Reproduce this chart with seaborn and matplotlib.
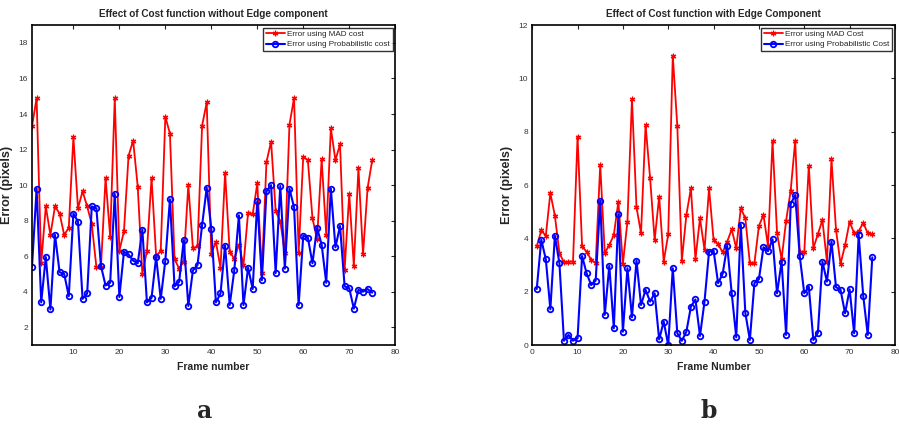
import numpy as np
import seaborn as sns
import matplotlib.pyplot as plt

# ---- data ----
frames_a = list(range(1, 76))
mad_a = [13.3, 14.9, 5.6, 8.8, 7.2, 8.8, 8.4, 7.2, 7.6, 12.7,
         8.7, 9.65, 8.8, 7.8, 5.4, 5.4, 10.4, 7.1, 14.9, 6.3,
         7.4, 11.65, 12.5, 9.9, 5.0, 6.3, 10.4, 6.0, 6.3, 13.85,
         12.9, 5.85, 5.3, 5.7, 10.0, 6.45, 6.55, 13.35, 14.65, 6.15,
         6.8, 5.35, 10.7, 6.25, 5.85, 6.65, 5.5, 8.45, 8.35, 10.1,
         5.05, 11.3, 12.45, 8.55, 7.95, 6.2, 13.4, 14.9, 6.2, 11.6,
         11.4, 8.15, 6.95, 11.45, 7.2, 13.2, 11.4, 12.3, 5.25, 9.5,
         5.45, 10.95, 6.1, 9.85, 11.4]
prob_a = [5.4, 9.8, 3.4, 5.95, 3.0, 7.2, 5.1, 5.0, 3.75, 8.4,
          7.95, 3.6, 3.9, 8.8, 8.7, 5.45, 4.35, 4.5, 9.5, 3.7,
          6.25, 6.1, 5.75, 5.6, 7.5, 3.4, 3.65, 5.95, 3.6, 5.75,
          9.2, 4.3, 4.55, 6.9, 3.2, 5.2, 5.5, 7.75, 9.85, 7.55,
          3.4, 3.9, 6.6, 3.25, 5.2, 8.3, 3.25, 5.35, 4.15, 9.1,
          4.65, 9.65, 10.0, 5.05, 9.95, 5.3, 9.8, 8.75, 3.25, 7.15,
          7.05, 5.6, 7.6, 6.65, 4.5, 9.8, 6.5, 7.7, 4.3, 4.2,
          3.05, 4.1, 4.0, 4.15, 3.95]

frames_b = list(range(1, 76))
mad_b = [3.7, 4.3, 4.1, 5.7, 4.85, 3.45, 3.1, 3.13, 3.13, 7.82,
         3.7, 3.5, 3.2, 3.07, 6.76, 3.45, 3.75, 4.13, 5.38, 3.05,
         4.63, 9.24, 5.17, 4.19, 8.26, 6.26, 3.94, 5.57, 3.13, 4.16,
         10.86, 8.22, 3.17, 4.88, 5.88, 3.22, 4.76, 3.57, 5.88, 3.94,
         3.78, 3.48, 3.88, 4.34, 3.63, 5.13, 4.76, 3.07, 3.07, 4.47,
         4.88, 3.72, 7.66, 4.19, 3.22, 4.67, 5.79, 7.66, 3.48, 3.48,
         6.73, 3.63, 4.16, 4.69, 3.13, 6.97, 4.32, 3.04, 3.75, 4.63,
         4.19, 4.26, 4.59, 4.19, 4.16]
prob_b = [2.1, 3.95, 3.22, 1.34, 4.1, 3.07, 0.16, 0.38, 0.16, 0.25,
          3.34, 2.69, 2.25, 2.42, 5.42, 1.13, 2.97, 0.63, 4.9, 0.5,
          2.88, 1.04, 3.17, 1.5, 2.07, 1.63, 1.94, 0.21, 0.88, 0.0,
          2.88, 0.44, 0.16, 0.5, 1.44, 1.71, 0.34, 1.63, 3.5, 3.54,
          2.32, 2.67, 3.72, 1.94, 0.29, 4.51, 1.21, 0.19, 2.32, 2.47,
          3.67, 3.52, 3.97, 1.94, 3.13, 0.38, 5.29, 5.63, 3.34, 1.94,
          2.19, 0.19, 0.46, 3.13, 2.38, 3.88, 2.17, 2.07, 1.19, 2.09,
          0.44, 4.13, 1.85, 0.38, 3.29]

sns.set_style("white")
plt.rcParams['font.family'] = ['Liberation Sans', 'DejaVu Sans']

fig = plt.figure(figsize=(8.99, 4.34), dpi=100)
ax1 = fig.add_axes([0.0356, 0.205, 0.404, 0.737])
ax2 = fig.add_axes([0.592, 0.205, 0.4035, 0.737])

asterisk = (6, 2, 0)


def draw(ax, x, mad, prob, labels):
    sns.lineplot(x=x, y=mad, ax=ax, color='red', lw=1.3, marker=asterisk,
                 markersize=4, markeredgecolor='red', markeredgewidth=0.9,
                 label=labels[0])
    sns.lineplot(x=x, y=prob, ax=ax, color='blue', lw=1.5, marker='o',
                 markersize=4, markerfacecolor='none', markeredgecolor='blue',
                 markeredgewidth=1.3, label=labels[1])
    ax.tick_params(direction='in', top=True, right=True, length=3,
                   labelsize=6, labelcolor='#333333', pad=3)
    for s in ax.spines.values():
        s.set_color('black')
        s.set_linewidth(1.2)
    leg = ax.legend(loc='upper right', fontsize=5.9, frameon=True, fancybox=False,
                    edgecolor='black', borderpad=0.35, handlelength=2.3,
                    handletextpad=0.3, labelspacing=0.3, borderaxespad=0.3)
    leg.get_frame().set_linewidth(1.0)
    ax.yaxis.set_label_coords(-0.052, 0.5)


draw(ax1, frames_a, mad_a, prob_a,
     ['Error using MAD cost', 'Error using Probabilistic cost'])
ax1.set_xlim(1, 80)
ax1.set_ylim(1, 19)
ax1.set_xticks(range(10, 81, 10))
ax1.set_yticks(range(2, 19, 2))
ax1.set_title('Effect of Cost function without Edge component',
              fontsize=7.2, fontweight='bold', pad=6)
ax1.set_xlabel('Frame number', fontsize=7.5, fontweight='bold', labelpad=4)
ax1.set_ylabel('Error (pixels)', fontsize=9, fontweight='bold')

draw(ax2, frames_b, mad_b, prob_b,
     ['Error using MAD Cost', 'Error using Probabilistic Cost'])
ax2.set_xlim(0, 80)
ax2.set_ylim(0, 12)
ax2.set_xticks(range(0, 81, 10))
ax2.set_yticks(range(0, 13, 2))
ax2.set_title('Effect of Cost function with Edge Component',
              fontsize=7.2, fontweight='bold', pad=6)
ax2.set_xlabel('Frame Number', fontsize=7.5, fontweight='bold', labelpad=4)
ax2.set_ylabel('Error (pixels)', fontsize=9, fontweight='bold')

fig.text(0.228, 0.037, 'a', fontsize=17, fontweight='bold',
         family=['DejaVu Serif'], ha='center')
fig.text(0.788, 0.037, 'b', fontsize=17, fontweight='bold',
         family=['DejaVu Serif'], ha='center')

fig.savefig('out.png', dpi=100)
